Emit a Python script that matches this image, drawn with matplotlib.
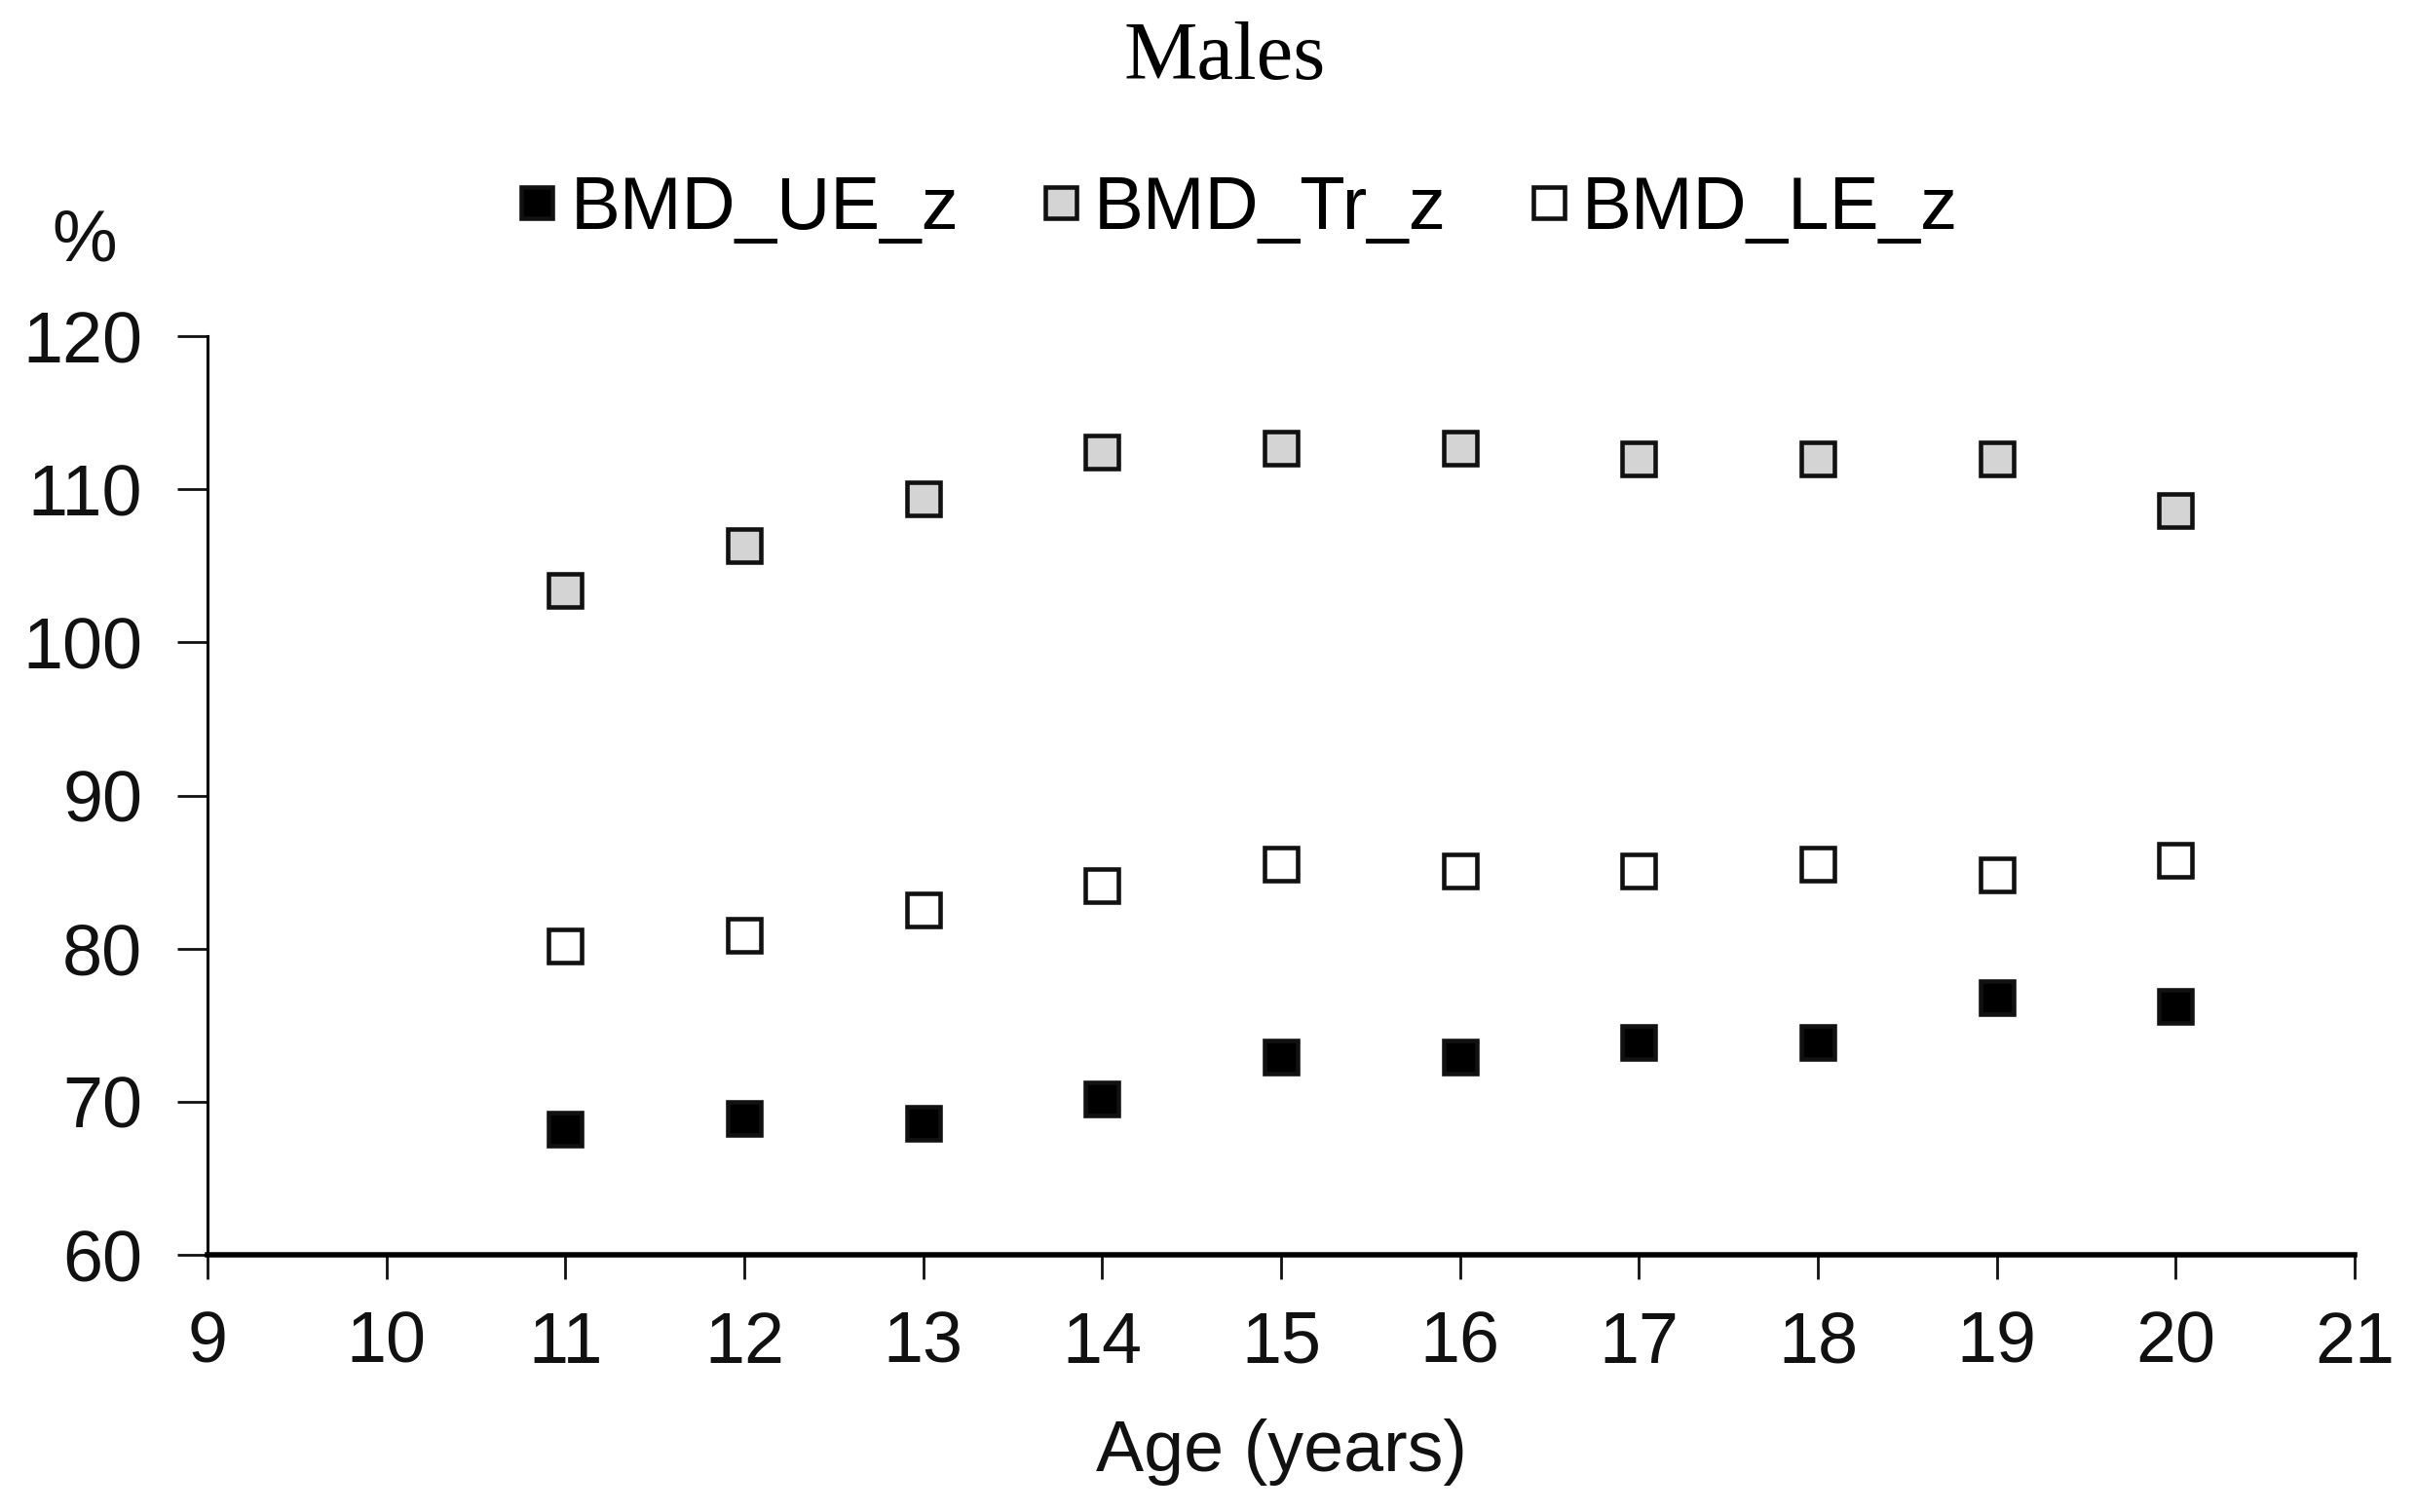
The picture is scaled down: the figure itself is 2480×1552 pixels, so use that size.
"""Scatter of BMD z-score percentages by age, males."""
import matplotlib.pyplot as plt

ages = [11, 12, 13, 14, 15, 16, 17, 18, 19, 20]
bmd_ue_z = [68.2, 68.9, 68.6, 70.2, 72.9, 72.9, 73.9, 73.9, 76.8, 76.2]
bmd_tr_z = [103.4, 106.3, 109.4, 112.4, 112.7, 112.7, 112.0, 112.0, 112.0, 108.6]
bmd_le_z = [80.2, 80.9, 82.5, 84.1, 85.5, 85.1, 85.1, 85.5, 84.8, 85.8]
series_names = ["BMD_UE_z", "BMD_Tr_z", "BMD_LE_z"]
series_fill = ["#000000", "#d4d4d4", "#ffffff"]
x_ticks = list(range(9, 22))
y_ticks = list(range(60, 121, 10))

plt.rcParams['font.family'] = ['Liberation Sans', 'DejaVu Sans']

fig = plt.figure(figsize=(24.8, 15.52), dpi=100)
ax = fig.add_axes([0.0859, 0.1701, 0.9746 - 0.0859, 0.7777 - 0.1701])

for vals, name, fill in zip([bmd_ue_z, bmd_tr_z, bmd_le_z], series_names, series_fill):
    ax.plot(ages, vals, linestyle="none", marker="s", markersize=25,
            markerfacecolor=fill, markeredgecolor="#111111",
            markeredgewidth=3.3, label=name, clip_on=False)

ax.set_xlim(9, 21)
ax.set_ylim(60, 120)
ax.set_xticks(x_ticks)
ax.set_yticks(y_ticks)
ax.tick_params(axis="y", direction="out", length=22, width=2, pad=26,
               labelsize=53, colors="#111111")
ax.tick_params(axis="x", direction="out", length=18, width=2, pad=23,
               labelsize=53, colors="#111111")
ax.spines["top"].set_visible(False)
ax.spines["right"].set_visible(False)
ax.spines["left"].set_linewidth(2.2)
ax.spines["bottom"].set_linewidth(4)

ax.set_xlabel("Age (years)", fontsize=53, labelpad=30, color="#111111")
fig.text(0.035, 0.840, "%", fontsize=54, ha="center", va="center",
         color="#111111")
fig.text(0.507, 0.948, "Males", fontsize=61, ha="center", va="baseline",
         family=["Liberation Serif", "DejaVu Serif"])

fig.legend(loc="center", bbox_to_anchor=(0.513, 0.861), ncol=3,
           frameon=False, fontsize=55, handlelength=0.45, handletextpad=0.22,
           columnspacing=1.15, markerscale=0.95)

fig.savefig("out.png", dpi=100)
